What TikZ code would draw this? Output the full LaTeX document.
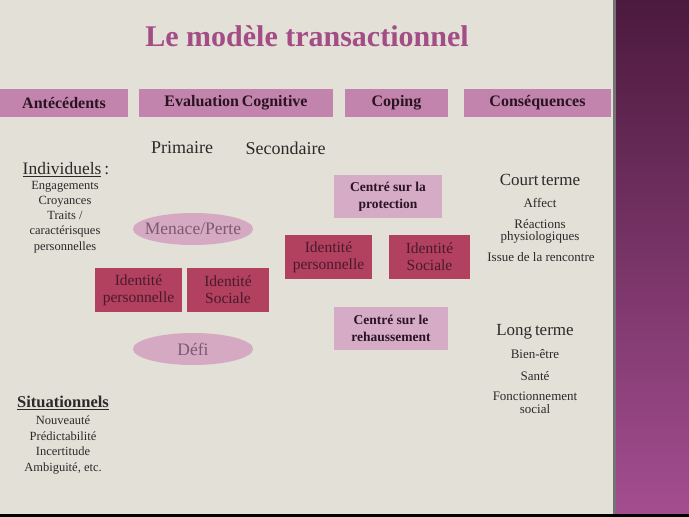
\documentclass[tikz,border=0pt]{standalone}
\usepackage{fontspec}
\setmainfont{Liberation Serif}
\usetikzlibrary{shapes.geometric}
\definecolor{bg}{HTML}{E3E0D7}
\definecolor{hdr}{HTML}{C283AC}
\definecolor{hdrtxt}{HTML}{2A1424}
\definecolor{dark}{HTML}{B2405F}
\definecolor{darktxt}{HTML}{4A1A2C}
\definecolor{lite}{HTML}{D6ABC6}
\definecolor{ell}{HTML}{D6A9C3}
\definecolor{elltxt}{HTML}{7C5A72}
\definecolor{ttl}{HTML}{A34C86}
\definecolor{txt}{HTML}{2A2A2A}
\definecolor{purpTop}{HTML}{4C1A3E}
\definecolor{purpBot}{HTML}{A44E90}
\tikzset{
  fs/.style={font=\fontsize{#1}{#1}\selectfont},
  hdrbox/.style={fill=hdr, text=hdrtxt, inner sep=0pt, font=\fontsize{16}{16}\selectfont\bfseries},
  darkbox/.style={fill=dark, text=darktxt, inner sep=0pt, align=center, font=\fontsize{15.5}{17}\selectfont},
  litebox/.style={fill=lite, text=hdrtxt, inner sep=0pt, align=center, font=\fontsize{13.5}{17}\selectfont\bfseries},
  ellbox/.style={ellipse, fill=ell, text=elltxt, inner xsep=-10pt, inner ysep=0pt, minimum width=120pt, minimum height=32pt, font=\fontsize{17.5}{17.5}\selectfont},
  plain/.style={text=txt, inner sep=0pt, align=center},
}
\begin{document}
\begin{tikzpicture}[x=1pt,y=-1pt]
\useasboundingbox (0,0) rectangle (689,517);
\fill[bg] (0,0) rectangle (616,517);
\shade[top color=purpTop, bottom color=purpBot] (616,0) rectangle (689,517);
\fill[black!55] (613,0) rectangle (616,514);
\fill[black] (0,514) rectangle (689,517);

\node[text=ttl, inner sep=0pt, font=\fontsize{30}{30}\selectfont\bfseries] (title) at (307,36) {Le modèle transactionnel};

\node[hdrbox, minimum width=128pt, minimum height=28pt] (ant) at (64,103) {Antécédents};
\node[hdrbox, minimum width=194pt, minimum height=28pt] (eval) at (236,103) {Evaluation\,Cognitive};
\node[hdrbox, minimum width=103pt, minimum height=28pt] (cop) at (396.5,103) {Coping};
\node[hdrbox, minimum width=147pt, minimum height=28pt] (cons) at (537.5,103) {Conséquences};

\node[plain, fs=18] (prim) at (182,148) {Primaire};
\node[plain, fs=18] (sec) at (285.5,148) {Secondaire};

\node[plain, fs=17.5] (ind) at (66,170) {\underline{Individuels}\,:};
\node[plain, font=\fontsize{12.5}{15.2}\selectfont] (indl) at (65,217) {Engagements\\Croyances\\Traits /\\caractérisques\\personnelles};

\node[ellbox] (menace) at (193,229) {Menace/Perte};
\node[ellbox] (defi) at (193,349) {Défi};

\node[darkbox, minimum width=87pt, minimum height=44pt] (ip1) at (138.5,290) {Identité\\personnelle};
\node[darkbox, minimum width=82pt, minimum height=44pt] (is1) at (228,290) {Identité\\Sociale};
\node[darkbox, minimum width=87pt, minimum height=44pt] (ip2) at (328.5,257) {Identité\\personnelle};
\node[darkbox, minimum width=81pt, minimum height=44pt] (is2) at (429.5,257) {Identité\\Sociale};

\node[litebox, minimum width=108pt, minimum height=43pt] (prot) at (388,196.5) {Centré sur la\\protection};
\node[litebox, minimum width=114pt, minimum height=43pt] (reh) at (391,328.5) {Centré sur le\\rehaussement};

\node[plain, fs=16.5] (sit) at (63,403) {\textbf{\underline{Situationnels}}};
\node[plain, font=\fontsize{12.5}{15.6}\selectfont] (sitl) at (63,445) {Nouveauté\\Prédictabilité\\Incertitude\\Ambiguité, etc.};

\node[plain, fs=17] (court) at (540,180) {Court\,terme};
\node[plain, fs=13] (aff) at (540,203) {Affect};
\node[plain, font=\fontsize{13}{12}\selectfont] (reac) at (540,231) {Réactions\\physiologiques};
\node[plain, fs=13] (issue) at (541,257) {Issue de la rencontre};

\node[plain, fs=17] (long) at (535,332) {Long\,terme};
\node[plain, fs=13] (bien) at (535,354) {Bien-être};
\node[plain, fs=13] (sante) at (535,376) {Santé};
\node[plain, font=\fontsize{13}{12.5}\selectfont] (fonc) at (535,403) {Fonctionnement\\social};
\end{tikzpicture}
\end{document}
